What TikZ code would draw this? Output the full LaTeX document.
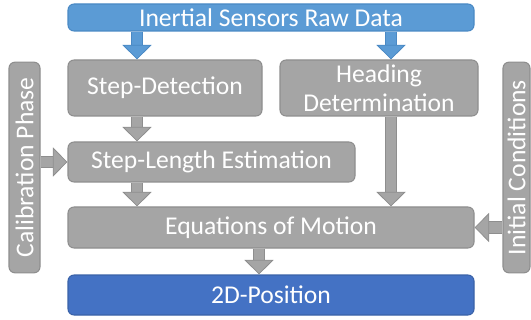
\documentclass[tikz,border=0pt]{standalone}
\usepackage{fontspec}
\setmainfont{Carlito}
\usetikzlibrary{arrows.meta}

\definecolor{boxgray}{HTML}{A5A5A5}
\definecolor{boxline}{HTML}{8E8E8E}
\definecolor{rawblue}{HTML}{5B9BD5}
\definecolor{rawline}{HTML}{4A89C4}
\definecolor{posblue}{HTML}{4472C4}
\definecolor{posline}{HTML}{3A62A8}

\begin{document}
\begin{tikzpicture}[thick, x=0.75pt, y=-0.75pt]
    \tikzset{box/.style={
      draw=boxline, fill=boxgray, rounded corners=4.5pt, text=white,
      font=\fontsize{19.2}{22}\selectfont, align=center, inner sep=0pt}}
    \tikzset{sidebox/.style={box, rotate=90,
      minimum width=158pt, minimum height=23.25pt}}
    \tikzset{garrow/.style={
      draw=boxline, line width=0.6pt, double=boxgray, double distance=8pt,
      -{Triangle[length=11pt, width=22pt, fill=boxgray]}}}
    \tikzset{barrow/.style={garrow, draw=rawline, double=rawblue,
      -{Triangle[length=11pt, width=22pt, fill=rawblue]}}}

    \useasboundingbox (0, 0) rectangle (531, 320);

    % Blocks
    \path (271, 17.5) node [box, fill=rawblue, draw=rawline,
          minimum width=304.5pt, minimum height=20.25pt]
          (raw) {Inertial Sensors Raw Data};

    \path (165, 88) node [box, minimum width=145.5pt, minimum height=42pt]
          (step) {Step-Detection};
    \path (379, 88) node [box, minimum width=148.5pt, minimum height=42pt]
          (head) {Heading\\Determination};

    \path (211.5, 162) node [box, minimum width=215.25pt, minimum height=30pt]
          (steplen) {Step-Length Estimation};
    \path (271, 227.5) node [box, minimum width=304.5pt, minimum height=30.75pt]
          (eqm) {Equations of Motion};
    \path (271, 295) node [box, fill=posblue, draw=posline,
          minimum width=304.5pt, minimum height=30pt]
          (pos) {2D-Position};

    % Side inputs
    \path (24.5, 167.5) node [sidebox] (calib) {Calibration Phase};
    \path (516.5, 167.5) node [sidebox, minimum height=20.25pt]
          (init) {Initial Conditions};

    % Anchors for the vertical arrows.
    \coordinate (colA) at (137, 0);
    \coordinate (colB) at (391, 0);
    \coordinate (colC) at (259, 0);

    % Edges
    \draw [barrow] (raw.south -| colA) -- (step.north -| colA);
    \draw [barrow] (raw.south -| colB) -- (head.north -| colB);
    \draw [garrow] (step.south -| colA) -- (steplen.north -| colA);
    \draw [garrow] (steplen.south -| colA) -- (eqm.north -| colA);
    \draw [garrow] (head.south -| colB) -- (eqm.north -| colB);
    \draw [garrow] (eqm.south -| colC) -- (pos.north -| colC);
    \draw [garrow] (calib.south |- steplen.west) -- (steplen.west);
    \draw [garrow] (init.north |- eqm.east) -- (eqm.east);
\end{tikzpicture}
\end{document}
